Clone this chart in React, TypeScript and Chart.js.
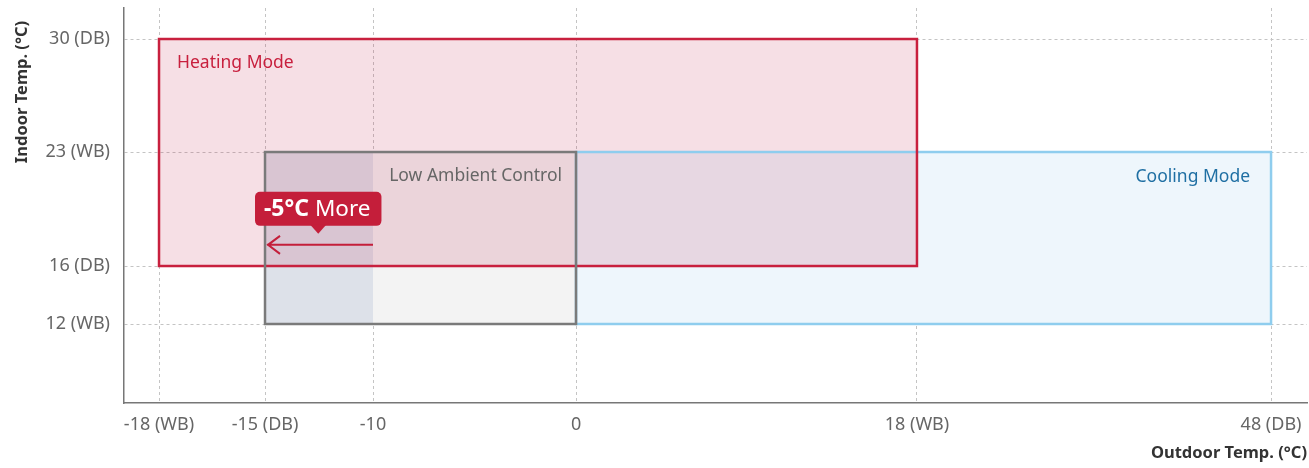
import React, { useEffect, useRef } from 'react';
import { Chart, registerables, LinearScale } from 'chart.js';

Chart.register(...registerables);

// ---------- data ----------
const xTickValues = [-18, -15, -10, 0, 18, 48];
const xTickLabels = ['-18 (WB)', '-15 (DB)', '-10', '0', '18 (WB)', '48 (DB)'];
const yTickValues = [12, 16, 23, 30];
const yTickLabels = ['12 (WB)', '16 (DB)', '23 (WB)', '30 (DB)'];

const regionNames = ['Low Ambient Control', 'Cooling Mode', 'Heating Mode'];
const regionXMin = [-15, 0, -18];
const regionXMax = [0, 48, 18];
const regionYMin = [12, 12, 16];
const regionYMax = [23, 23, 30];

const extensionFrom = -10; // former low-ambient limit
const extensionTo = -15; // extended limit
const arrowIndoor = 17.3;
const calloutBold = '-5°C';
const calloutRest = ' More';

const xTitle = 'Outdoor Temp. (°C)';
const yTitle = 'Indoor Temp. (°C)';

// ---------- style ----------
const FONT = "'Noto Sans', 'Open Sans', sans-serif";
const xStopFractions = [0.0296, 0.1192, 0.2105, 0.3821, 0.6703, 0.9696];
const yStopFractions = [0.2, 0.3468, 0.6354, 0.9215];

class PiecewiseScale extends LinearScale {
  static id = 'piecewise';
  static defaults = {};
  buildTicks() {
    const vals: number[] = (this.options as any).tickValues;
    return vals.map((v) => ({ value: v }));
  }
  _frac(value: number) {
    const vals: number[] = (this.options as any).tickValues;
    const fr: number[] = (this.options as any).fractions;
    const n = vals.length;
    let i = 0;
    while (i < n - 2 && value > vals[i + 1]) i++;
    return fr[i] + ((value - vals[i]) * (fr[i + 1] - fr[i])) / (vals[i + 1] - vals[i]);
  }
  getPixelForValue(value: number) {
    const f = this._frac(value);
    return this.isHorizontal() ? this.left + f * this.width : this.bottom - f * this.height;
  }
  getValueForPixel(pixel: number) {
    const vals: number[] = (this.options as any).tickValues;
    const fr: number[] = (this.options as any).fractions;
    const f = this.isHorizontal() ? (pixel - this.left) / this.width : (this.bottom - pixel) / this.height;
    const n = vals.length;
    let i = 0;
    while (i < n - 2 && f > fr[i + 1]) i++;
    return vals[i] + ((f - fr[i]) * (vals[i + 1] - vals[i])) / (fr[i + 1] - fr[i]);
  }
}
Chart.register(PiecewiseScale as any);

const regionsPlugin = {
  id: 'regions',
  beforeDatasetsDraw(chart: any) {
    const { ctx, scales } = chart;
    const x = scales.x;
    const y = scales.y;
    const px = (v: number) => x.getPixelForValue(v);
    const py = (v: number) => y.getPixelForValue(v);
    const rect = (i: number) => {
      const l = px(regionXMin[i]);
      const r = px(regionXMax[i]);
      const t = py(regionYMax[i]);
      const b = py(regionYMin[i]);
      return [l, t, r - l, b - t];
    };
    ctx.save();
    // fills
    const [lx, ly, lw, lh] = rect(0);
    ctx.fillStyle = '#f3f3f3';
    ctx.fillRect(lx, ly, lw, lh);
    const ex0 = px(extensionTo);
    const ex1 = px(extensionFrom);
    ctx.fillStyle = '#dde1e9';
    ctx.fillRect(ex0, ly, ex1 - ex0, lh);
    const [cx, cy, cw, ch] = rect(1);
    ctx.fillStyle = '#eef6fc';
    ctx.fillRect(cx, cy, cw, ch);
    const [hx, hy, hw, hh] = rect(2);
    ctx.fillStyle = 'rgba(196,40,78,0.15)';
    ctx.fillRect(hx, hy, hw, hh);

    // borders
    ctx.lineWidth = 2.5;
    ctx.strokeStyle = '#8fcdee';
    ctx.strokeRect(cx, cy, cw, ch);
    ctx.strokeStyle = '#c8203e';
    ctx.strokeRect(hx, hy, hw, hh);
    ctx.strokeStyle = '#7a7a7a';
    ctx.strokeRect(lx, ly, lw, lh);

    // labels
    ctx.font = `17.5px ${FONT}`;
    ctx.textBaseline = 'middle';
    ctx.fillStyle = '#c8203e';
    ctx.textAlign = 'left';
    ctx.fillText(regionNames[2], hx + 18, hy + 24);
    ctx.fillStyle = '#666666';
    ctx.textAlign = 'right';
    ctx.fillText(regionNames[0], lx + lw - 14, ly + 24);
    ctx.fillStyle = '#1f6fa3';
    ctx.fillText(regionNames[1], cx + cw - 21, cy + 25);
    ctx.restore();
  },
  afterDatasetsDraw(chart: any) {
    const { ctx, scales } = chart;
    const x = scales.x;
    const y = scales.y;
    const xFrom = x.getPixelForValue(extensionFrom);
    const xTo = x.getPixelForValue(extensionTo);
    const ya = y.getPixelForValue(arrowIndoor);
    const red = '#c41e3a';
    ctx.save();
    // arrow
    ctx.strokeStyle = red;
    ctx.lineWidth = 2;
    ctx.beginPath();
    ctx.moveTo(xFrom, ya);
    ctx.lineTo(xTo + 2, ya);
    ctx.moveTo(xTo + 15, ya - 9);
    ctx.lineTo(xTo + 3, ya);
    ctx.lineTo(xTo + 15, ya + 9);
    ctx.stroke();

    // callout
    ctx.font = `bold 23px ${FONT}`;
    const wb = ctx.measureText(calloutBold).width;
    ctx.font = `22.5px ${FONT}`;
    const wr = ctx.measureText(calloutRest).width;
    const bl = xTo - 10;
    const bw = 9 + wb + wr + 11;
    const bh = 34;
    const bb = ya - 19;
    const bt = bb - bh;
    ctx.fillStyle = red;
    ctx.beginPath();
    ctx.roundRect(bl, bt, bw, bh, 5);
    ctx.fill();
    const mid = bl + bw / 2;
    ctx.beginPath();
    ctx.moveTo(mid - 8, bb - 1);
    ctx.lineTo(mid + 8, bb - 1);
    ctx.lineTo(mid, bb + 8);
    ctx.closePath();
    ctx.fill();
    ctx.fillStyle = '#ffffff';
    ctx.textBaseline = 'middle';
    ctx.textAlign = 'left';
    ctx.font = `bold 23px ${FONT}`;
    ctx.fillText(calloutBold, bl + 9, bt + bh / 2 + 1);
    ctx.font = `22.5px ${FONT}`;
    ctx.fillText(calloutRest, bl + 9 + wb, bt + bh / 2 + 1);
    ctx.restore();
  },
  afterDraw(chart: any) {
    const { ctx } = chart;
    ctx.save();
    ctx.translate(22, 92);
    ctx.rotate(-Math.PI / 2);
    ctx.font = `bold 16.5px ${FONT}`;
    ctx.fillStyle = '#333333';
    ctx.textAlign = 'center';
    ctx.textBaseline = 'middle';
    ctx.fillText(yTitle, 0, 0);
    ctx.restore();
  },
};

export default function App() {
  const ref = useRef<HTMLCanvasElement | null>(null);
  useEffect(() => {
    document.body.style.margin = '0';
    const canvas = ref.current;
    if (!canvas) return;
    const chart = new Chart(canvas, {
      type: 'scatter',
      data: { datasets: [{ data: [] }] },
      options: {
        animation: false,
        responsive: false,
        events: [],
        layout: { padding: { top: 8, right: 2, left: 0, bottom: 0 } },
        plugins: { legend: { display: false }, tooltip: { enabled: false } },
        scales: {
          x: {
            type: 'piecewise' as any,
            min: -19,
            max: 51,
            tickValues: xTickValues,
            fractions: xStopFractions,
            afterFit: (s: any) => {
              s.height = 65;
              s.paddingLeft = 0;
              s.paddingRight = 0;
            },
            grid: { color: '#c4c4c4', lineWidth: 1, drawTicks: false },
            border: { display: true, color: '#777777', width: 1.5, dash: [3, 3] },
            ticks: {
              autoSkip: false,
              maxRotation: 0,
              padding: 11,
              color: '#666666',
              font: { family: FONT, size: 18 },
              callback: (v: any) => xTickLabels[xTickValues.indexOf(Number(v))] ?? '',
            },
            title: {
              display: true,
              text: xTitle,
              align: 'end',
              color: '#333333',
              font: { family: FONT, size: 16.5, weight: 'bold' },
              padding: { top: 0, bottom: 5 },
            },
          } as any,
          y: {
            type: 'piecewise' as any,
            min: 6.5,
            max: 32,
            tickValues: yTickValues,
            fractions: yStopFractions,
            afterFit: (s: any) => {
              s.width = 124;
              s.paddingTop = 0;
              s.paddingBottom = 0;
            },
            grid: { color: '#c4c4c4', lineWidth: 1, drawTicks: false },
            border: { display: true, color: '#777777', width: 1.5, dash: [3, 3] },
            ticks: {
              autoSkip: false,
              padding: 14,
              color: '#666666',
              font: { family: FONT, size: 18 },
              callback: (v: any) => yTickLabels[yTickValues.indexOf(Number(v))] ?? '',
            },
          } as any,
        },
      },
      plugins: [regionsPlugin],
    });
    return () => chart.destroy();
  }, []);
  return <canvas ref={ref} width={1309} height={468} style={{ display: 'block' }} />;
}
